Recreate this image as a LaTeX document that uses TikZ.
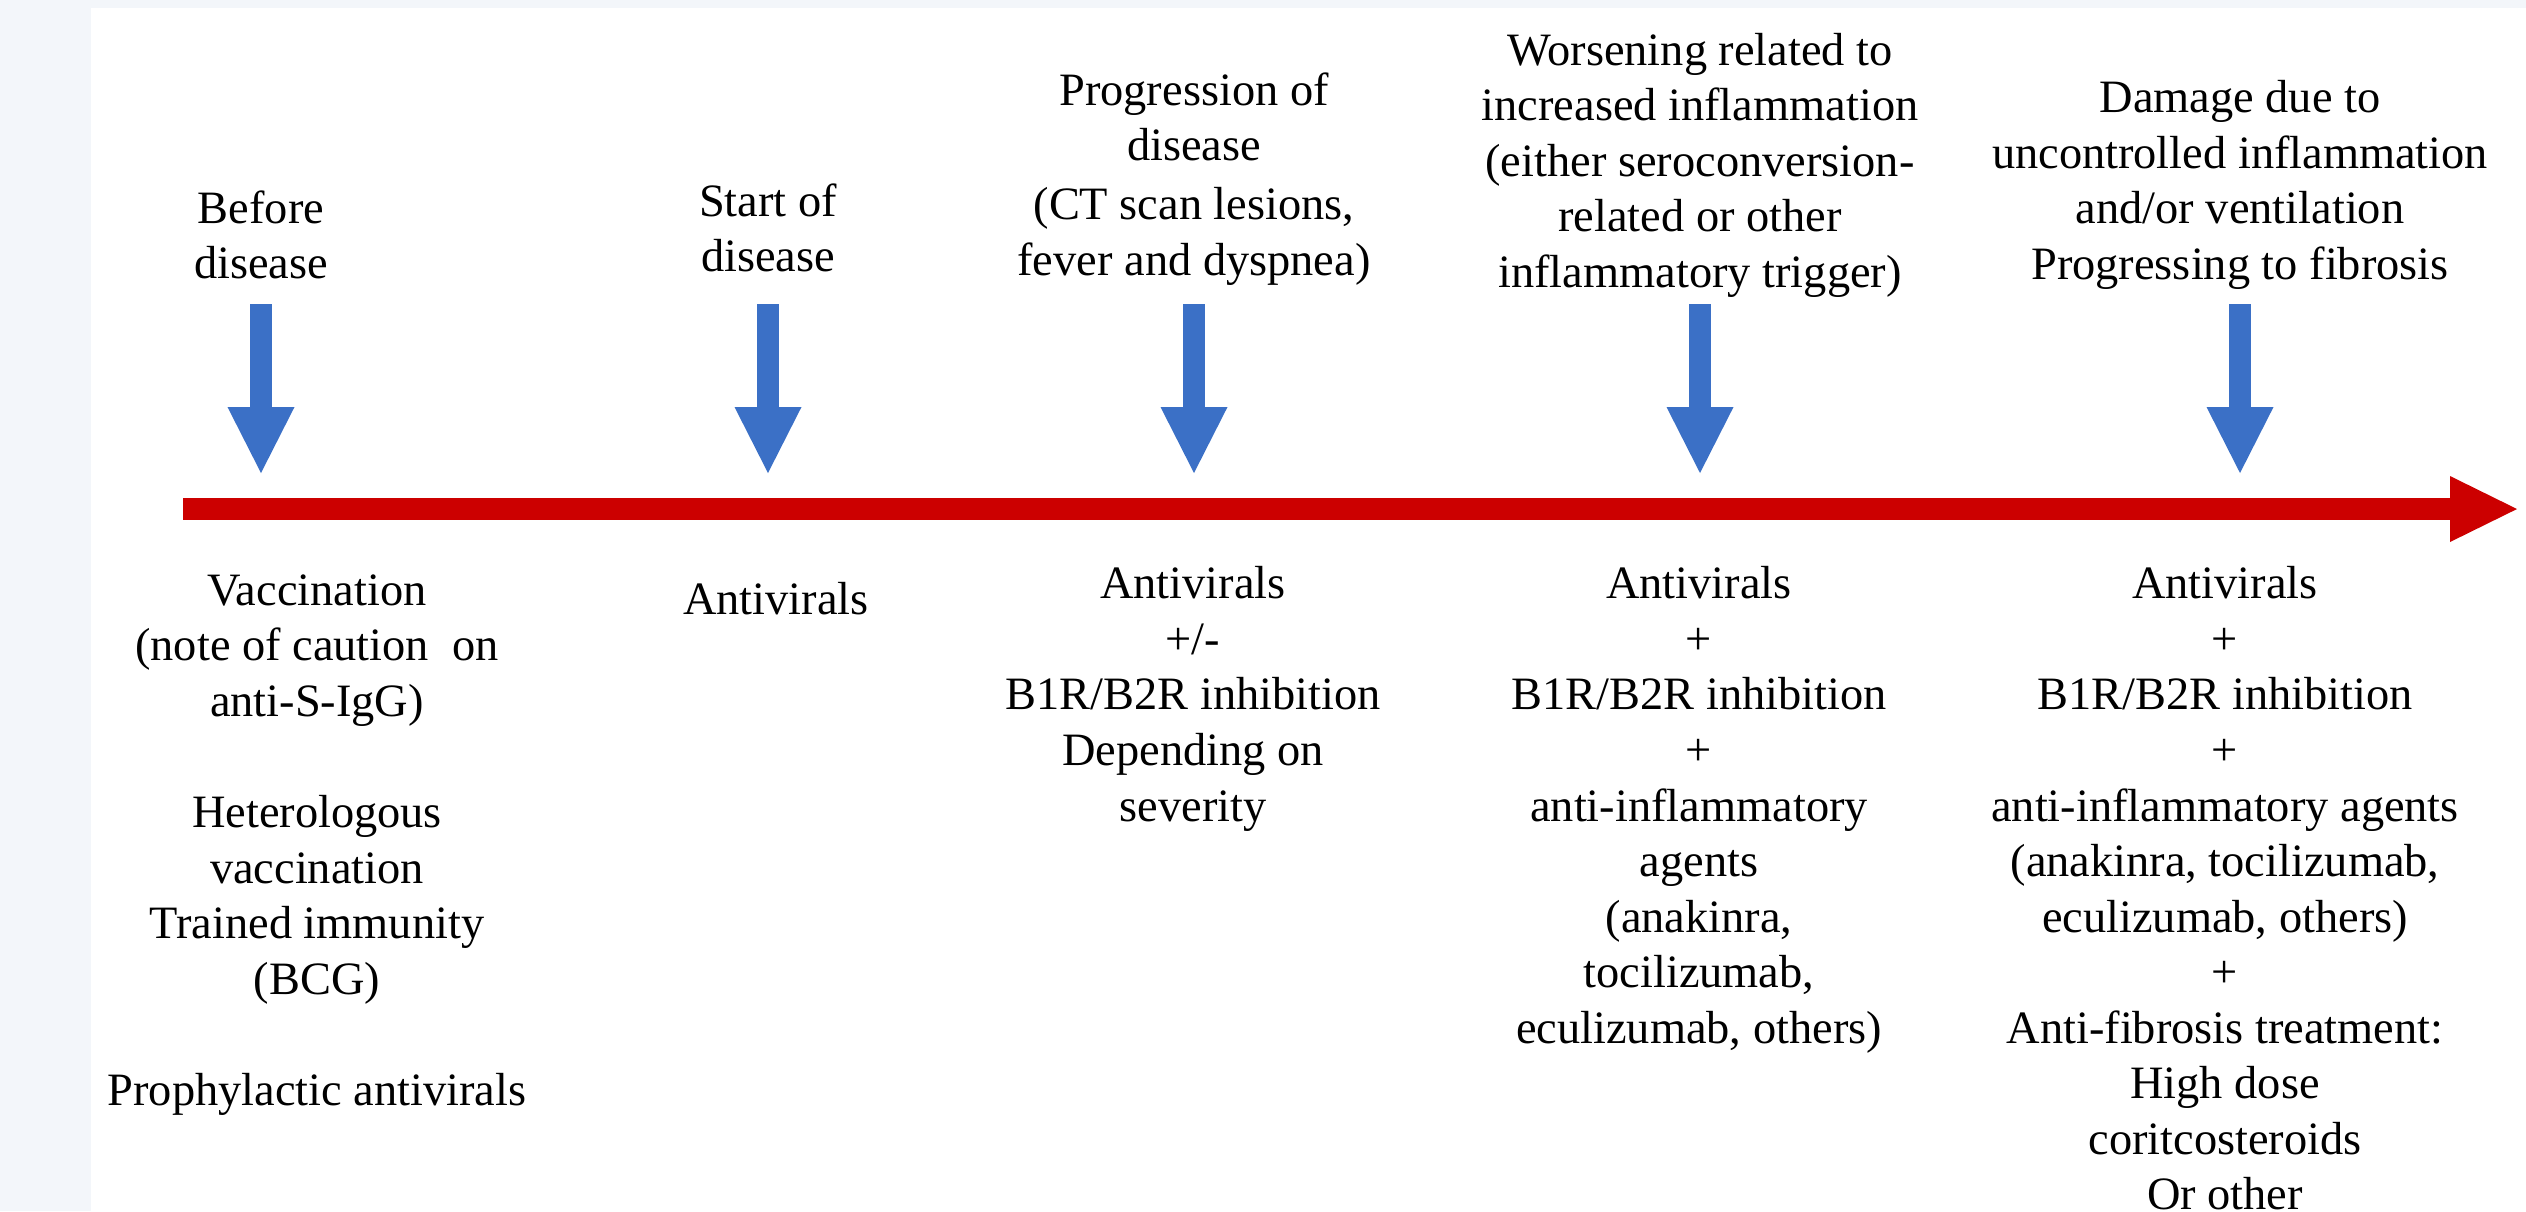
\documentclass[tikz,border=0pt]{standalone}
\usepackage{fontspec}
\setmainfont{Liberation Serif}
\usepackage{xcolor}
\usepackage{tikz}
\usetikzlibrary{arrows.meta, positioning, calc}

\definecolor{pagebg}{RGB}{243,246,250}
\definecolor{tlred}{RGB}{204,0,0}
\definecolor{stepblue}{RGB}{59,112,198}

\tikzset{
    phase/.style={align=center, inner sep=0pt, anchor=south},
    treat/.style={align=center, inner sep=0pt, anchor=north},
    marker/.style={stepblue, line width=2.2mm, -{Triangle[width=6.7mm, length=6.6mm, line width=0pt]}},
    timeline/.style={tlred, line width=2.2mm, -{Triangle[width=6.6mm, length=6.7mm, line width=0pt]}}
}

\begin{document}
\begin{tikzpicture}[font=\fontsize{13.2}{15.8}\selectfont]
        \useasboundingbox (0,0) rectangle (25.26,-12.11);
        \fill[pagebg] (0,0) rectangle (25.26,-12.11);
        \fill[white] (0.91,-0.08) rectangle (25.26,-12.11);

        % stages above the time line
        \node[phase] (p1) at (2.61,-2.80) {Before\\disease};
        \node[phase] (p2) at (7.68,-2.73) {Start of\\disease};
        \node[phase] (p3) at (11.94,-2.86) {Progression of\\disease\\[1pt](CT scan lesions,\\fever and dyspnea)};
        \node[phase] (p4) at (17.00,-2.98) {Worsening related to\\increased inflammation\\(either seroconversion-\\related or other\\inflammatory trigger)};
        \node[phase] (p5) at (22.40,-2.90) {Damage due to\\uncontrolled inflammation\\and/or ventilation\\Progressing to fibrosis};

        % time line
        \coordinate (t0) at (1.83,-5.09);
        \coordinate (tend) at (25.17,-5.09);
        \draw[timeline] (t0) -- (tend);

        % markers
        \coordinate (a1) at (2.61,-3.04);  \coordinate (b1) at (2.61,-4.73);
        \coordinate (a2) at (7.68,-3.04);  \coordinate (b2) at (7.68,-4.73);
        \coordinate (a3) at (11.94,-3.04); \coordinate (b3) at (11.94,-4.73);
        \coordinate (a4) at (17.00,-3.04); \coordinate (b4) at (17.00,-4.73);
        \coordinate (a5) at (22.40,-3.04); \coordinate (b5) at (22.40,-4.73);
        \draw[marker] (a1) -- (b1);
        \draw[marker] (a2) -- (b2);
        \draw[marker] (a3) -- (b3);
        \draw[marker] (a4) -- (b4);
        \draw[marker] (a5) -- (b5);

        % treatments below the time line
        \node[treat] (r1) at (3.17,-5.74) {Vaccination\\(note of caution\ \ on\\anti-S-IgG)\\[15.8pt]Heterologous\\vaccination\\Trained immunity\\(BCG)\\[15.8pt]Prophylactic antivirals};
        \node[treat] (r2) at (7.76,-5.82) {Antivirals};
        \node[treat] (r3) at (11.93,-5.66) {Antivirals\\+/-\\B1R/B2R inhibition\\Depending on\\severity};
        \node[treat] (r4) at (16.99,-5.66) {Antivirals\\+\\B1R/B2R inhibition\\+\\anti-inflammatory\\agents\\(anakinra,\\tocilizumab,\\eculizumab, others)};
        \node[treat] (r5) at (22.25,-5.66) {Antivirals\\+\\B1R/B2R inhibition\\+\\anti-inflammatory agents\\(anakinra, tocilizumab,\\eculizumab, others)\\+\\Anti-fibrosis treatment:\\High dose\\coritcosteroids\\Or other};
    \end{tikzpicture}
\end{document}
